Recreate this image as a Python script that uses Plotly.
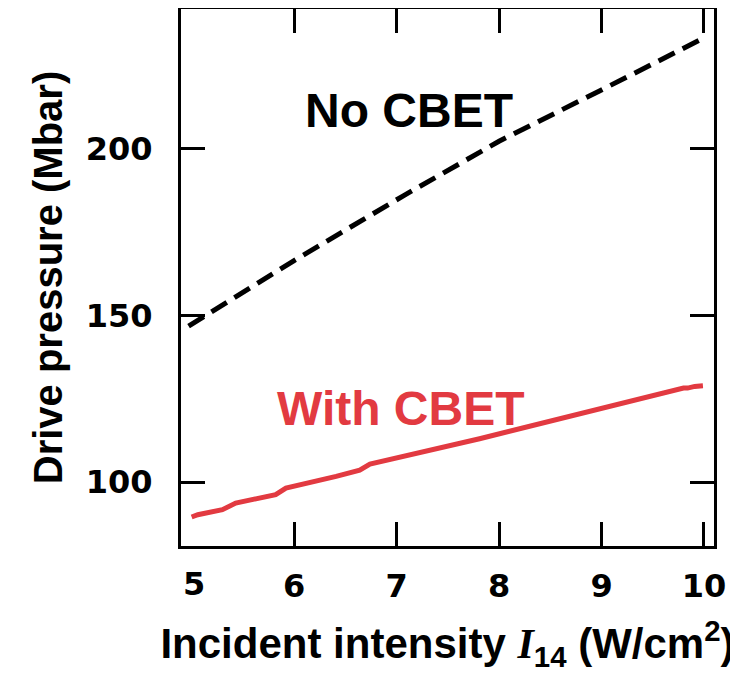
import plotly.graph_objects as go

# Data
no_cbet_x = [4.97, 6.0, 7.07, 8.0, 8.98, 9.98]
no_cbet_y = [146.8, 166.5, 186.0, 202.3, 217.4, 233.0]

with_cbet_x = [5.00, 5.06, 5.30, 5.43, 5.82, 5.92, 6.41, 6.64, 6.74, 7.81, 9.80, 9.84, 9.91, 9.99]
with_cbet_y = [89.5, 90.2, 91.7, 93.7, 96.2, 98.2, 101.7, 103.6, 105.4, 113.0, 128.2, 128.2, 128.7, 128.9]

x_ticks = [6, 7, 8, 9, 10]
y_ticks = [100, 150, 200]

FONT = "Liberation Sans, Arial, Helvetica, sans-serif"
TICKFONT = "DejaVu Sans, Liberation Sans, sans-serif"
RED = "#e23a41"

fig = go.Figure()
fig.add_trace(go.Scatter(x=no_cbet_x, y=no_cbet_y, mode="lines",
                         line=dict(color="black", width=5, dash="18px,9px"),
                         showlegend=False))
fig.add_trace(go.Scatter(x=with_cbet_x, y=with_cbet_y, mode="lines",
                         line=dict(color=RED, width=5),
                         showlegend=False))

axis_common = dict(showline=True, linecolor="black", linewidth=3, mirror="ticks",
                   ticks="inside", ticklen=24, tickwidth=2.5, tickcolor="black",
                   showgrid=False, zeroline=False, automargin=False,
                   tickfont=dict(family=TICKFONT, size=32, color="black"))

fig.update_xaxes(range=[4.896, 10.098], tickvals=x_ticks,
                 ticktext=[f"<b>{v}</b>" for v in x_ticks],
                 ticklabelstandoff=10,
                 title=dict(text="<b>Incident intensity <span style='font-family:Liberation Serif'><i>I</i></span><sub>14</sub> (W/cm<sup>2</sup>)</b>",
                            font=dict(family=FONT, size=42, color="black"), standoff=30),
                 **axis_common)
fig.update_yaxes(range=[80.8, 242.0], tickvals=y_ticks,
                 ticktext=[f"<b>{v}</b>" for v in y_ticks],
                 ticklabelstandoff=19,
                 title=dict(text="<b>Drive pressure (Mbar)</b>",
                            font=dict(family=FONT, size=40, color="black"), standoff=11),
                 **axis_common)

fig.add_annotation(x=0, xref="paper", y=-0.0708, yref="paper", yanchor="middle",
                   text="<b>5</b>", showarrow=False,
                   font=dict(family=TICKFONT, size=32, color="black"))
fig.add_annotation(x=7.12, y=211.5, text="<b>No CBET</b>", showarrow=False,
                   font=dict(family=FONT, size=48, color="black"))
fig.add_annotation(x=7.04, y=122.0, text="<b>With CBET</b>", showarrow=False,
                   font=dict(family=FONT, size=48, color=RED))

# the page adds an 8px body margin, so the figure is sized to fit inside the window
fig.update_layout(width=730, height=665, margin=dict(l=173, r=24, t=1, b=127),
                  plot_bgcolor="white", paper_bgcolor="white")

fig.write_html("out.html")
